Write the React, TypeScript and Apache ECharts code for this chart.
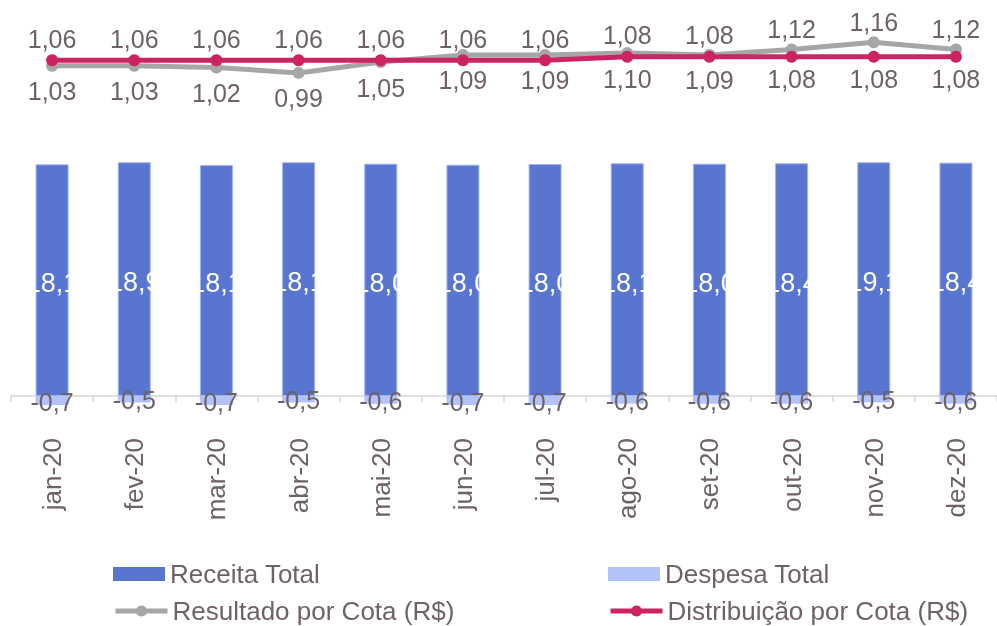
import React, { useEffect, useRef } from "react";
import * as echarts from "echarts";

const meses = ["jan-20", "fev-20", "mar-20", "abr-20", "mai-20", "jun-20", "jul-20", "ago-20", "set-20", "out-20", "nov-20", "dez-20"];
// bar heights as drawn in the picture
const receitaTotal = [17.96, 18.12, 17.91, 18.12, 18.01, 17.93, 17.98, 18.04, 18.01, 18.04, 18.12, 18.09];
// values printed inside the bars
const receitaRotulos = [18.1, 18.9, 18.1, 18.1, 18.0, 18.0, 18.0, 18.1, 18.0, 18.4, 19.1, 18.4];
const despesaTotal = [-0.7, -0.5, -0.7, -0.5, -0.6, -0.7, -0.7, -0.6, -0.6, -0.6, -0.5, -0.6];
const resultadoPorCota = [1.03, 1.03, 1.02, 0.99, 1.05, 1.09, 1.09, 1.1, 1.09, 1.12, 1.16, 1.12];
const distribuicaoPorCota = [1.06, 1.06, 1.06, 1.06, 1.06, 1.06, 1.06, 1.08, 1.08, 1.08, 1.08, 1.08];

const FONT = '"Liberation Sans", Arial, sans-serif';
const TXT = "#6e6264";
const fmt = (v: number, d: number) => v.toFixed(d).replace(".", ",");

export default function App() {
  const ref = useRef<HTMLDivElement>(null);
  useEffect(() => {
    if (!ref.current) return;
    const chart = echarts.init(ref.current, undefined, { renderer: "svg" });
    const swapFrom = 9;
    const legendBase = {
      itemWidth: 52,
      itemHeight: 14,
      padding: 0,
      itemGap: 0,
      textStyle: { fontSize: 26, color: TXT, fontFamily: FONT },
    };
    chart.setOption({
      animation: false,
      textStyle: { fontFamily: FONT },
      grid: { left: 11, right: -3, top: 20, height: 400 },
      legend: [
        { ...legendBase, data: [{ name: "Receita Total", icon: "rect", itemStyle: { borderWidth: 0 } }], left: 113, top: 561 },
        { ...legendBase, data: [{ name: "Despesa Total", icon: "rect", itemStyle: { borderWidth: 0 } }], left: 608, top: 561 },
        { ...legendBase, data: ["Resultado por Cota (R$)"], left: 113, top: 598, lineStyle: { width: 5 } },
        { ...legendBase, data: ["Distribuição por Cota (R$)"], left: 608, top: 598, lineStyle: { width: 5 } },
      ],
      xAxis: {
        type: "category",
        data: meses,
        axisLine: { onZero: true, onZeroAxisIndex: 0, lineStyle: { color: "#d9d4d5", width: 1.5 } },
        axisTick: { show: true, length: 6, lineStyle: { color: "#d9d4d5", width: 1.5 } },
        axisLabel: { rotate: 90, margin: 18, fontSize: 26, color: TXT, fontFamily: FONT },
      },
      yAxis: [
        { type: "value", show: false, min: -1.8605, max: 29.147, splitLine: { show: false } },
        { type: "value", show: false, min: -0.9383, max: 1.2839, splitLine: { show: false } },
      ],
      series: [
        {
          name: "Receita Total",
          type: "bar",
          stack: "total",
          barWidth: 33,
          data: receitaTotal,
          itemStyle: { color: "#5876d0", borderColor: "#a3b3ec", borderWidth: 1 },
          label: {
            show: true,
            position: "inside",
            color: "#ffffff",
            textBorderWidth: 0,
            textBorderColor: "transparent",
            fontSize: 27,
            fontFamily: FONT,
            offset: [0, 3],
            formatter: (p: any) => fmt(receitaRotulos[p.dataIndex], 1),
          },
        },
        {
          name: "Despesa Total",
          type: "bar",
          stack: "total",
          barWidth: 33,
          data: despesaTotal,
          itemStyle: { color: "#b3c3fa" },
          label: {
            show: true,
            position: "inside",
            color: TXT,
            textBorderWidth: 0,
            textBorderColor: "transparent",
            fontSize: 25,
            fontFamily: FONT,
            offset: [0, 1],
            formatter: (p: any) => fmt(p.value, 1),
          },
        },
        {
          name: "Resultado por Cota (R$)",
          type: "line",
          yAxisIndex: 1,
          color: "#a6a6a6",
          symbol: "circle",
          symbolSize: 12,
          lineStyle: { width: 5, color: "#a6a6a6" },
          itemStyle: { color: "#a6a6a6" },
          data: resultadoPorCota.map((v, i) => ({
            value: v,
            label: { position: i >= swapFrom ? "top" : "bottom", distance: i >= swapFrom ? 2 : 7 },
          })),
          label: {
            show: true,
            color: TXT,
            fontSize: 25,
            fontFamily: FONT,
            formatter: (p: any) => fmt(p.value, 2),
          },
          z: 3,
        },
        {
          name: "Distribuição por Cota (R$)",
          type: "line",
          yAxisIndex: 1,
          color: "#cc2462",
          symbol: "circle",
          symbolSize: 12,
          lineStyle: { width: 5, color: "#cc2462" },
          itemStyle: { color: "#cc2462" },
          data: distribuicaoPorCota.map((v, i) => ({
            value: v,
            label: { position: i >= swapFrom ? "bottom" : "top", distance: i >= swapFrom ? 4 : 3 },
          })),
          label: {
            show: true,
            color: TXT,
            fontSize: 25,
            fontFamily: FONT,
            formatter: (p: any) => fmt(p.value, 2),
          },
          z: 4,
        },
      ],
    });
    return () => chart.dispose();
  }, []);
  return <div ref={ref} style={{ position: "fixed", left: 0, top: 0, width: 997, height: 626 }} />;
}
